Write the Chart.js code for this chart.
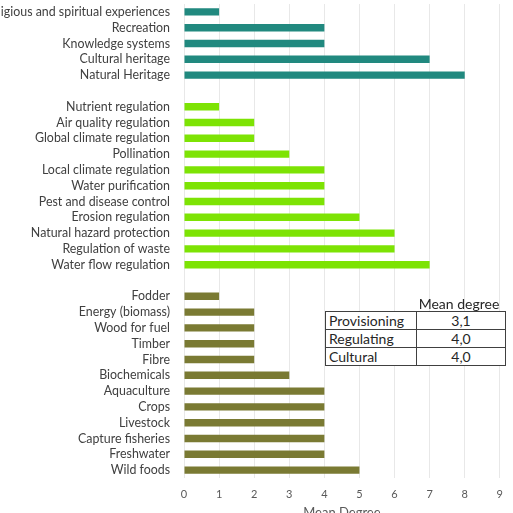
<!DOCTYPE html>
<html>
<head>
<meta charset="utf-8">
<script src="https://cdn.jsdelivr.net/npm/chart.js@4"></script>
<style>
  body { margin: 0; overflow: hidden; background: #fff; }
  #wrap { position: relative; width: 513px; height: 513px; overflow: hidden; }
  #meanTable { position: absolute; left: 325px; top: 311px; border-collapse: collapse;
    font-family: Lato, sans-serif; font-size: 14px; color: #262626; background: #fff; }
  #meanTable td { border: 1px solid #404040; height: 17px; padding: 0 3px; line-height: 17px; }
  #meanTable td.v { text-align: center; width: 82px; }
  #meanTable td.n { width: 84px; }
  #tableHead { position: absolute; left: 412px; top: 295px; width: 94px; text-align: center;
    font-family: Lato, sans-serif; font-size: 14px; color: #262626; }
</style>
</head>
<body>
<div id="wrap">
  <canvas id="myBarChart" width="513" height="521"></canvas>
  <div id="tableHead"></div>
  <table id="meanTable"></table>
</div>
<script>
// cultural services
var culturalLabels = ['Religious and spiritual experiences', 'Recreation', 'Knowledge systems', 'Cultural heritage', 'Natural Heritage'];
var culturalValues = [1, 4, 4, 7, 8];

// regulating services
var regulatingLabels = ['Nutrient regulation', 'Air quality regulation', 'Global climate regulation', 'Pollination',
  'Local climate regulation', 'Water purification', 'Pest and disease control', 'Erosion regulation',
  'Natural hazard protection', 'Regulation of waste', 'Water flow regulation'];
var regulatingValues = [1, 2, 2, 3, 4, 4, 4, 5, 6, 6, 7];

// provisioning services
var provisioningLabels = ['Fodder', 'Energy (biomass)', 'Wood for fuel', 'Timber', 'Fibre', 'Biochemicals',
  'Aquaculture', 'Crops', 'Livestock', 'Capture fisheries', 'Freshwater', 'Wild foods'];
var provisioningValues = [1, 2, 2, 2, 2, 3, 4, 4, 4, 4, 4, 5];

var xTicks = [0, 1, 2, 3, 4, 5, 6, 7, 8, 9];

// inset table
var tableTitle = 'Mean degree';
var tableNames = ['Provisioning', 'Regulating', 'Cultural'];
var tableValues = ['3,1', '4,0', '4,0'];

var colCultural = '#21897f';
var colRegulating = '#7de304';
var colProvisioning = '#7a7a33';

// build one list with a blank row between groups
var labels = [];
var values = [];
var colors = [];
function addGroup(l, v, c, gap) {
    for (var i = 0; i < l.length; i++) {
        labels.push(l[i]);
        values.push(v[i]);
        colors.push(c);
    }
    if (gap) {
        labels.push('');
        values.push(null);
        colors.push(c);
    }
}
addGroup(culturalLabels, culturalValues, colCultural, true);
addGroup(regulatingLabels, regulatingValues, colRegulating, true);
addGroup(provisioningLabels, provisioningValues, colProvisioning, false);

var ctx = document.getElementById('myBarChart').getContext('2d');
var chart = new Chart(ctx, {
    type: 'bar',
    data: {
        labels: labels,
        datasets: [{
            data: values,
            backgroundColor: colors,
            barPercentage: 0.47,
            categoryPercentage: 1
        }]
    },
    options: {
        indexAxis: 'y',
        responsive: false,
        animation: false,
        layout: { padding: { top: 4, right: 5, left: 0, bottom: 0 } },
        plugins: {
            legend: { display: false },
            tooltip: { enabled: false }
        },
        scales: {
            y: {
                grid: { display: false, drawTicks: false },
                border: { display: false },
                ticks: {
                    autoSkip: false,
                    padding: 14,
                    color: '#404040',
                    font: { family: 'Lato', size: 12.4 }
                },
                afterFit: function(scale) {
                    scale.width = 184;
                    scale.paddingTop = 0;
                    scale.paddingBottom = 0;
                }
            },
            x: {
                min: 0,
                max: 9,
                afterBuildTicks: function(scale) {
                    scale.ticks = xTicks.map(function(v) { return { value: v }; });
                },
                afterFit: function(scale) {
                    scale.height = 43;
                },
                grid: { color: '#e8e8e8', drawTicks: false },
                border: { display: false },
                ticks: {
                    padding: 10,
                    color: '#595959',
                    font: { family: 'Lato', size: 11 }
                },
                title: {
                    display: true,
                    text: 'Mean Degree',
                    color: '#595959',
                    font: { family: 'Lato', size: 13 },
                    padding: { top: 0, bottom: 0 }
                }
            }
        }
    }
});

document.getElementById('tableHead').textContent = tableTitle;
var tbl = document.getElementById('meanTable');
for (var i = 0; i < tableNames.length; i++) {
    var tr = document.createElement('tr');
    tr.innerHTML = '<td class="n">' + tableNames[i] + '</td><td class="v">' + tableValues[i] + '</td>';
    tbl.appendChild(tr);
}
</script>
</body>
</html>
